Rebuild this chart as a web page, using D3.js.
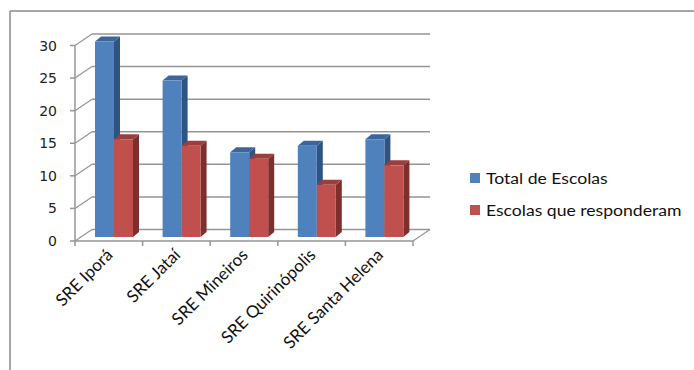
<!DOCTYPE html>
<html><head><meta charset="utf-8">
<script src="https://cdn.jsdelivr.net/npm/d3@7"></script>
<style>body{margin:0;background:#fff;} svg{display:block;}</style>
</head><body>
<svg id="c" width="694" height="370"></svg>
<script>
const categories = ["SRE Iporá","SRE Jataí","SRE Mineiros","SRE Quirinópolis","SRE Santa Helena"];
const seriesNames = ["Total de Escolas","Escolas que responderam"];
const totalEscolas = [30,24,13,14,15];
const escolasResponderam = [15,14,12,8,11];
const yTicks = [0,5,10,15,20,25,30];

const series = [totalEscolas, escolasResponderam];
const colors = [
  {front:"#4f81bd", side:"#2f5383", top:"#3b659c"},
  {front:"#c0504d", side:"#7e2f2d", top:"#9c3e3b"}
];

const svg = d3.select("#c");
// outer frame (top + left)
svg.append("line").attr("x1",10).attr("y1",11).attr("x2",694).attr("y2",11).attr("stroke","#8a8a8a").attr("stroke-width",1.5);
svg.append("line").attr("x1",10).attr("y1",11).attr("x2",10).attr("y2",370).attr("stroke","#8a8a8a").attr("stroke-width",1.5);

const x = d3.scaleBand().domain(categories).range([75,413]);
const y = d3.scaleLinear().domain([0,30]).range([241,45.5]);
const DX = 17, DY = -11.5; // depth of wall
const grid = "#959595";

// back wall gridlines and side wall diagonals
yTicks.forEach(t=>{
  svg.append("line").attr("x1",75+DX).attr("y1",y(t)+DY).attr("x2",413+DX).attr("y2",y(t)+DY)
    .attr("stroke",grid).attr("stroke-width",1.5);
  svg.append("line").attr("x1",75).attr("y1",y(t)).attr("x2",75+DX).attr("y2",y(t)+DY)
    .attr("stroke",grid).attr("stroke-width",1.2);
});
// floor right edge
svg.append("line").attr("x1",413).attr("y1",y(0)).attr("x2",413+DX).attr("y2",y(0)+DY).attr("stroke",grid).attr("stroke-width",1.2);

// bars
const SX = 5, SY = -4;      // bar plane shift
const bw = 19, bd = 6, bh = -5; // bar width, side depth
categories.forEach((c,i)=>{
  series.forEach((s,k)=>{
    const x0 = x(c) + 15 + k*bw + SX;
    const yt = y(s[i]) + SY, yb = y(0) + SY;
    const col = colors[k];
    svg.append("path").attr("d",`M${x0+bw},${yb}L${x0+bw+bd},${yb+bh}L${x0+bw+bd},${yt+bh}L${x0+bw},${yt}Z`).attr("fill",col.side);
    svg.append("path").attr("d",`M${x0},${yt}L${x0+bd},${yt+bh}L${x0+bw+bd},${yt+bh}L${x0+bw},${yt}Z`).attr("fill",col.top);
    svg.append("rect").attr("x",x0).attr("y",yt).attr("width",bw).attr("height",yb-yt).attr("fill",col.front);
  });
});

// front axes
svg.append("line").attr("x1",75).attr("y1",y(30)).attr("x2",75).attr("y2",y(0)).attr("stroke",grid).attr("stroke-width",1.5);
svg.append("line").attr("x1",75).attr("y1",y(0)).attr("x2",413).attr("y2",y(0)).attr("stroke",grid).attr("stroke-width",1.5);
yTicks.forEach(t=>{
  svg.append("line").attr("x1",70).attr("y1",y(t)).attr("x2",75).attr("y2",y(t)).attr("stroke",grid).attr("stroke-width",1.5);
  svg.append("text").attr("x",57).attr("y",y(t)).attr("dy","0.36em").attr("text-anchor","end")
    .attr("font-family","DejaVu Sans").attr("font-size",14).attr("fill","#222").text(t);
});
const bounds = categories.map(c=>x(c)).concat([413]);
bounds.forEach(b=>{
  svg.append("line").attr("x1",b).attr("y1",y(0)).attr("x2",b).attr("y2",y(0)+5).attr("stroke",grid).attr("stroke-width",1.5);
});
categories.forEach(c=>{
  const cx = x(c) + x.bandwidth()/2 + 5;
  svg.append("text").attr("transform",`translate(${cx},${256}) rotate(-45)`).attr("text-anchor","end")
    .attr("font-family","Lato").attr("font-size",17).attr("fill","#111").text(c);
});

// legend
seriesNames.forEach((n,k)=>{
  const ly = 178 + k*32;
  svg.append("rect").attr("x",470).attr("y",ly-5).attr("width",10).attr("height",10).attr("fill",colors[k].front);
  svg.append("text").attr("transform",`translate(486,${ly}) scale(1.1,1)`).attr("dy","0.35em")
    .attr("font-family","Lato").attr("font-size",16).attr("fill","#111").text(n);
});
</script>
</body></html>
